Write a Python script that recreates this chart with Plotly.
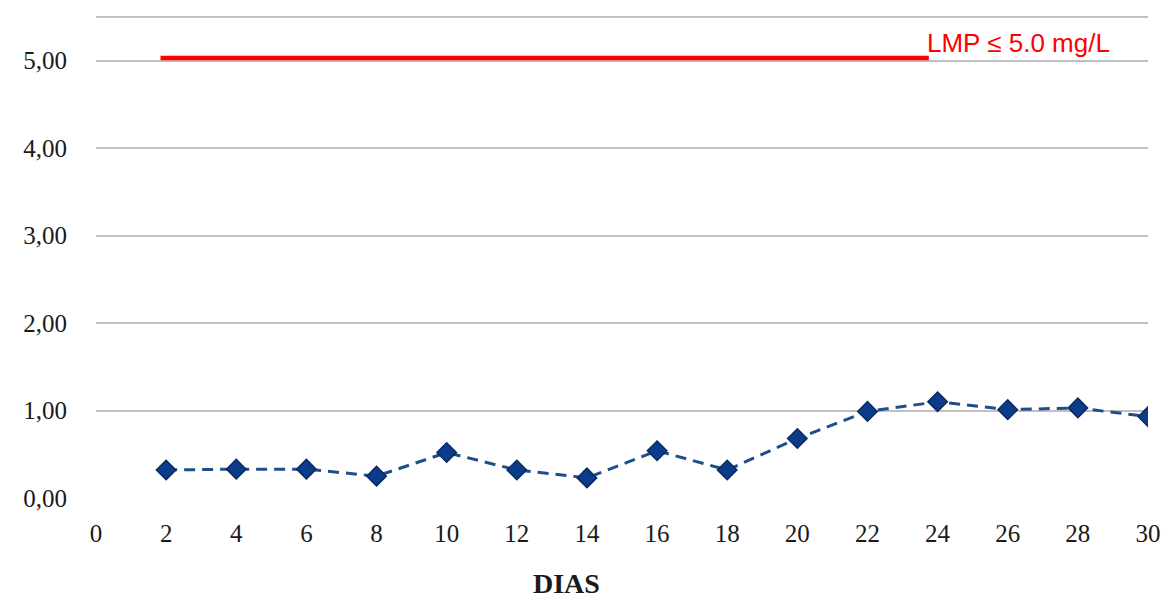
import plotly.graph_objects as go

dias = [2, 4, 6, 8, 10, 12, 14, 16, 18, 20, 22, 24, 26, 28, 30]
valores = [0.32, 0.33, 0.33, 0.25, 0.52, 0.32, 0.23, 0.54, 0.32, 0.68, 0.99, 1.10, 1.01, 1.03, 0.93]
lmp_x = [1.84, 23.75]
lmp_y = [5.03, 5.03]
lmp_label = "LMP ≤ 5.0 mg/L"
x_ticks = list(range(0, 31, 2))
y_ticks = [0, 1, 2, 3, 4, 5]
y_labels = ["0,00", "1,00", "2,00", "3,00", "4,00", "5,00"]

fig = go.Figure()
fig.add_trace(go.Scatter(
    x=lmp_x, y=lmp_y, mode="lines",
    line=dict(color="#FF0000", width=4.5), hoverinfo="skip", showlegend=False))
fig.add_trace(go.Scatter(
    x=dias, y=valores, mode="lines+markers",
    line=dict(color="#1F4E8C", width=3, dash="11px,7px"),
    marker=dict(symbol="diamond", size=15, color="#0B3C8C",
                line=dict(color="#0A2A5E", width=1.5)),
    showlegend=False))

fig.add_annotation(x=lmp_x[1], y=lmp_y[1], xref="x", yref="y", text=lmp_label,
                   showarrow=False, xanchor="left", yanchor="bottom", yshift=-2, xshift=-4,
                   font=dict(family="Liberation Sans", size=26, color="#FF0000"))
fig.add_annotation(x=0.447, y=0, xref="paper", yref="paper", text="<b>DIAS</b>",
                   showarrow=False, xanchor="center", yanchor="middle", yshift=-85,
                   font=dict(family="Liberation Serif", size=28, color="#1a1a1a"))
fig.add_shape(type="line", xref="paper", yref="paper", x0=0, x1=1, y0=1, y1=1,
              line=dict(color="#C0C0C0", width=2))

fig.update_layout(
    width=1173, height=599,
    margin=dict(l=96, r=21, t=17, b=101),
    paper_bgcolor="white", plot_bgcolor="white",
    xaxis=dict(range=[0, 30], tickvals=x_ticks, showgrid=False, zeroline=False,
               showline=False, ticks="", ticklabelstandoff=18,
               tickfont=dict(family="Liberation Serif", size=25, color="#1a1a1a")),
    yaxis=dict(range=[0, 5.5], tickvals=y_ticks, ticktext=y_labels,
               showgrid=True, gridcolor="#C0C0C0", gridwidth=2, zeroline=False,
               showline=False, ticks="", ticklabelstandoff=28,
               tickfont=dict(family="Liberation Serif", size=25, color="#1a1a1a")),
)
fig.write_html("out.html", config={"displayModeBar": False},
               post_script="document.body.style.margin='0';document.body.style.overflow='hidden';")
